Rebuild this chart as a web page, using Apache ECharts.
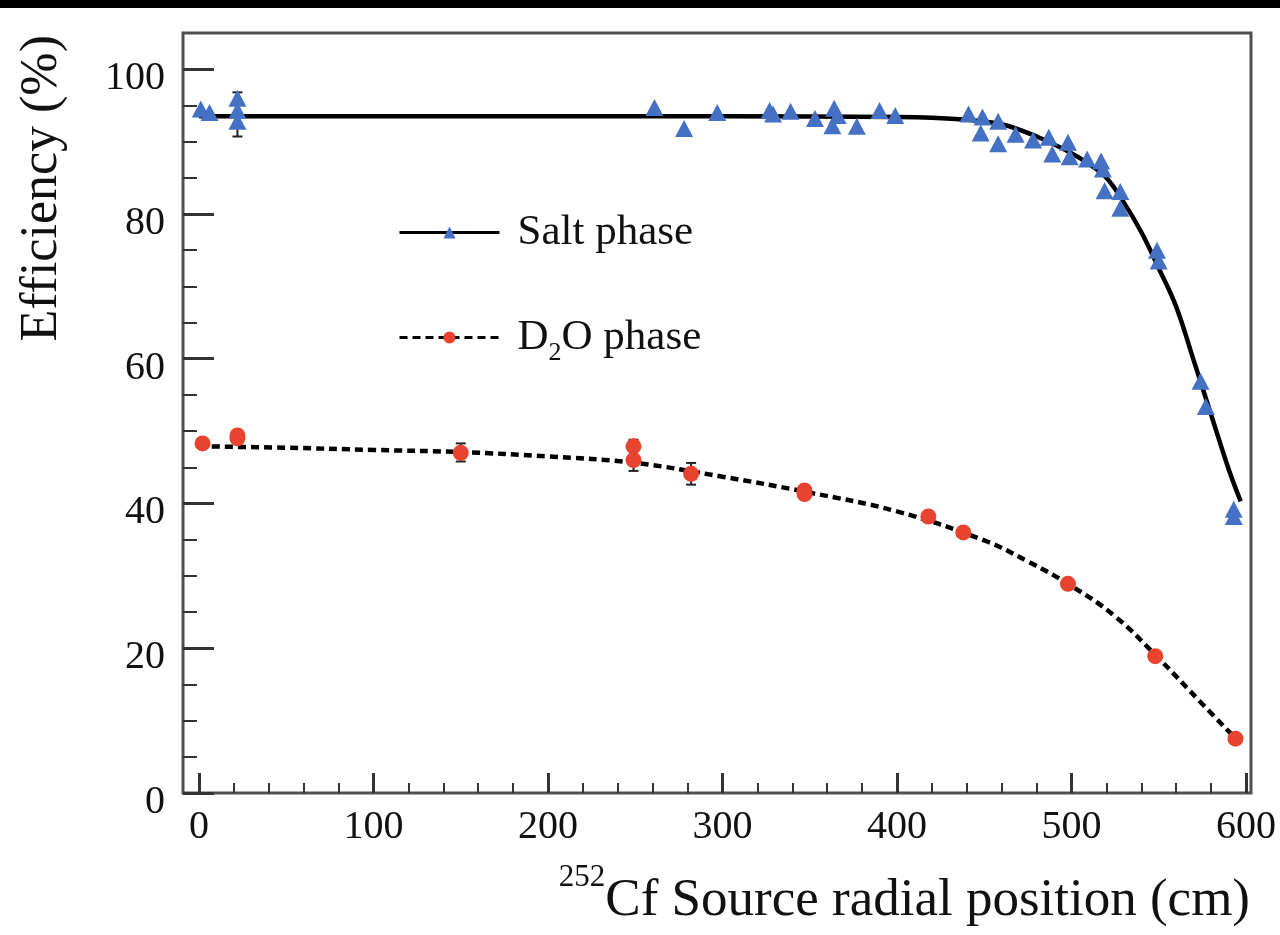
<!DOCTYPE html>
<html>
<head>
<meta charset="utf-8">
<script src="https://cdn.jsdelivr.net/npm/echarts@6/dist/echarts.min.js"></script>
<style>
  html, body { margin: 0; padding: 0; background: #fff; }
  #chart { width: 1280px; height: 935px; }
</style>
</head>
<body>
<div id="chart"></div>
<script>
// salt phase measurements (triangles)
const saltX = [1, 6, 22, 22, 22, 261, 278, 297, 327, 329, 339, 353, 364, 366, 363, 377, 390, 399,
  441, 449, 448, 458, 458, 468, 478, 487, 489, 498, 499, 509, 517, 518, 519, 528, 528, 549, 550, 574, 577, 593, 593];
const saltY = [94.5, 94.0, 96.0, 94.3, 92.8, 94.7, 91.8, 94.0, 94.3, 93.8, 94.2, 93.2, 94.6, 93.6, 92.2, 92.1, 94.3, 93.6,
  93.8, 93.4, 91.2, 92.8, 89.7, 91.0, 90.2, 90.6, 88.3, 89.9, 87.9, 87.6, 87.3, 86.2, 83.2, 83.1, 80.8, 75.0, 73.5, 56.9, 53.4, 39.2, 38.2];

// D2O phase measurements (circles)
const d2oX = [2, 22, 22, 150, 249, 249, 282, 347, 347, 418, 438, 498, 548, 594];
const d2oY = [48.3, 49.0, 49.4, 47.0, 47.9, 46.0, 44.1, 41.8, 41.3, 38.2, 36.0, 28.9, 18.9, 7.5];

// fitted curves
const saltFitX = [0, 100, 200, 300, 400, 420, 440, 460, 480, 500, 510, 520, 530, 540, 550, 560, 570, 580, 590, 597];
const saltFitY = [93.5, 93.5, 93.5, 93.5, 93.4, 93.3, 93.0, 92.4, 90.7, 88.4, 86.9, 85.0, 81.6, 77.5, 72.5, 67.2, 59.8, 52.3, 44.8, 40.3];
const d2oFitX = [0, 50, 100, 150, 200, 250, 300, 350, 400, 450, 475, 500, 525, 550, 575, 595];
const d2oFitY = [47.9, 47.7, 47.4, 47.1, 46.5, 45.6, 43.7, 41.5, 38.9, 34.9, 32.0, 28.6, 24.4, 18.6, 12.3, 7.3];

// the few visible error bars
const errX = [22, 150, 249, 282];
const errLo = [90.7, 45.8, 44.5, 42.6];
const errHi = [96.8, 48.3, 48.8, 45.6];

const FONT = 'Liberation Serif';
const BLUE = '#4571c4';
const RED = '#e8432f';
const INK = '#111';
const TICK = '#333';

const zip = (xs, ys) => xs.map((x, i) => [x, ys[i]]);

const chart = echarts.init(document.getElementById('chart'));

chart.setOption({
  animation: false,
  backgroundColor: '#fff',
  textStyle: { fontFamily: FONT, color: INK },
  grid: [
    // data area and frame
    { left: 183, right: 29, top: 33, bottom: 142, show: true, borderColor: '#505050', borderWidth: 3 },
    // y ticks (0..100)
    { left: 183, right: 29, top: 69.2, bottom: 142 },
    // x ticks (0..600)
    { left: 199, right: 34, top: 33, bottom: 142 }
  ],
  xAxis: [
    { gridIndex: 0, type: 'value', min: -9.2, max: 602.9, show: false },
    { gridIndex: 1, type: 'value', min: 0, max: 1, show: false },
    {
      gridIndex: 2, type: 'value', min: 0, max: 600, interval: 100,
      axisLine: { show: false },
      axisTick: { inside: true, length: 20, lineStyle: { color: TICK, width: 3 } },
      minorTick: { show: true, splitNumber: 5, length: 10, lineStyle: { color: TICK, width: 2 } },
      splitLine: { show: false },
      axisLabel: { fontSize: 40, margin: 14, color: INK, fontFamily: FONT }
    }
  ],
  yAxis: [
    { gridIndex: 0, type: 'value', min: 0, max: 105, show: false },
    {
      gridIndex: 1, type: 'value', min: 0, max: 100, interval: 20,
      axisLine: { show: false },
      axisTick: { inside: true, length: 31, lineStyle: { color: TICK, width: 3 } },
      minorTick: { show: true, splitNumber: 4, length: 14, lineStyle: { color: TICK, width: 2 } },
      splitLine: { show: false },
      axisLabel: { fontSize: 40, margin: 18, lineHeight: 19, verticalAlign: 'top', color: INK, fontFamily: FONT }
    },
    { gridIndex: 2, type: 'value', min: 0, max: 1, show: false }
  ],
  legend: [
    {
      data: ['Salt phase'], left: 398, top: 211, padding: 0, selectedMode: false,
      itemWidth: 100, itemHeight: 15, lineStyle: { width: 3 },
      textStyle: { fontSize: 43, lineHeight: 43, fontFamily: FONT, color: INK, padding: [0, 0, 0, 13] }
    },
    {
      data: ['D2O phase'], left: 398, top: 316, padding: 0, selectedMode: false,
      itemWidth: 100, itemHeight: 15, lineStyle: { width: 3 },
      formatter: () => '{m|D}{s|2}{m|O phase}',
      textStyle: {
        fontSize: 43, fontFamily: FONT, color: INK, padding: [0, 0, 0, 13],
        rich: {
          m: { fontSize: 43, lineHeight: 43, fontFamily: FONT, color: INK, verticalAlign: 'top' },
          s: { fontSize: 26, lineHeight: 26, fontFamily: FONT, color: INK, verticalAlign: 'top', padding: [24, 0, 0, 0] }
        }
      }
    }
  ],
  series: [
    {
      name: 'Salt phase', type: 'line', xAxisIndex: 0, yAxisIndex: 0,
      data: zip(saltFitX, saltFitY), smooth: 0.4,
      symbol: 'triangle', showSymbol: false,
      itemStyle: { color: BLUE, borderWidth: 0 },
      lineStyle: { color: '#000', width: 4.5 }, z: 2
    },
    {
      name: 'D2O phase', type: 'line', xAxisIndex: 0, yAxisIndex: 0,
      data: zip(d2oFitX, d2oFitY), smooth: 0.4,
      symbol: 'circle', showSymbol: false,
      itemStyle: { color: RED, borderWidth: 0 },
      lineStyle: { color: '#000', width: 4.5, type: [8, 5] }, z: 2
    },
    {
      name: 'errors', type: 'custom', xAxisIndex: 0, yAxisIndex: 0, z: 3,
      data: errX.map((x, i) => [x, errLo[i], errHi[i]]),
      renderItem: (params, api) => {
        const lo = api.coord([api.value(0), api.value(1)]);
        const hi = api.coord([api.value(0), api.value(2)]);
        const st = { stroke: '#222', lineWidth: 2 };
        return {
          type: 'group',
          children: [
            { type: 'line', shape: { x1: lo[0], y1: lo[1], x2: hi[0], y2: hi[1] }, style: st },
            { type: 'line', shape: { x1: lo[0] - 5, y1: lo[1], x2: lo[0] + 5, y2: lo[1] }, style: st },
            { type: 'line', shape: { x1: hi[0] - 5, y1: hi[1], x2: hi[0] + 5, y2: hi[1] }, style: st }
          ]
        };
      }
    },
    {
      name: 'salt data', type: 'scatter', xAxisIndex: 0, yAxisIndex: 0,
      data: zip(saltX, saltY), symbol: 'triangle', symbolSize: [18, 17],
      itemStyle: { color: BLUE, opacity: 1 }, z: 4
    },
    {
      name: 'd2o data', type: 'scatter', xAxisIndex: 0, yAxisIndex: 0,
      data: zip(d2oX, d2oY), symbol: 'circle', symbolSize: 16,
      itemStyle: { color: RED, opacity: 1 }, z: 4
    }
  ],
  graphic: [
    { type: 'rect', left: 0, top: 0, shape: { width: 1280, height: 8 }, style: { fill: '#000' } },
    {
      type: 'text', x: 1250, y: 901,
      style: {
        text: '{s|252}{m|Cf Source radial position (cm)}',
        align: 'right', verticalAlign: 'middle',
        rich: {
          m: { fontSize: 53, lineHeight: 78, fontFamily: FONT, fill: INK },
          s: { fontSize: 31, lineHeight: 31, fontFamily: FONT, fill: INK, verticalAlign: 'top' }
        }
      }
    },
    {
      type: 'text', x: 42, y: 35, rotation: Math.PI / 2,
      style: { text: 'Efficiency (%)', font: '52px "Liberation Serif"', fill: INK, align: 'right', verticalAlign: 'middle' }
    }
  ]
});
</script>
</body>
</html>
